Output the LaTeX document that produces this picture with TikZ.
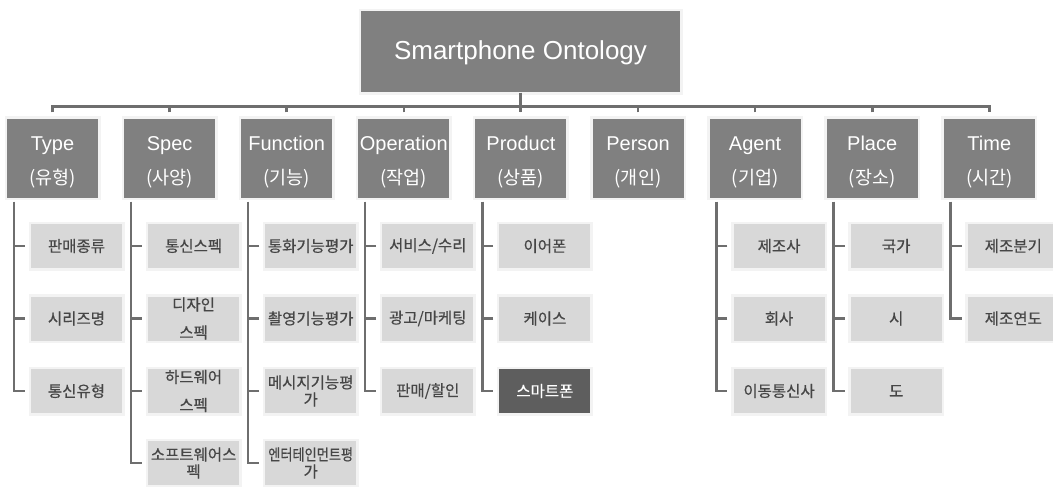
\documentclass[tikz,border=0pt]{standalone}
\usepackage{fontspec}
\usepackage{graphicx}
\setmainfont{Liberation Sans}
\newfontfamily\kr{Noto Sans CJK KR}
\newfontfamily\krb[FakeBold=0.5]{Noto Sans CJK KR}
\definecolor{catfill}{HTML}{808080}
\definecolor{leaf}{HTML}{D8D8D8}
\definecolor{leafdark}{HTML}{5E5E5E}
\definecolor{linec}{HTML}{6E6E6E}
\definecolor{leaftext}{HTML}{464646}
\definecolor{halo}{HTML}{F3F3F3}
\begin{document}
\begin{tikzpicture}[x=1pt,y=-1pt,
 box/.style={rectangle, inner sep=0pt, preaction={draw=halo,line width=5pt}},
 rootbox/.style={box, fill=catfill, text=white, minimum width=319pt, minimum height=81pt, font=\fontsize{26}{30}\selectfont},
 catbox/.style={box, fill=catfill, text=white, minimum width=91pt, minimum height=79pt, align=center, font=\fontsize{20}{34}\selectfont},
 leafbox/.style={box, fill=leaf, text=leaftext, minimum width=91pt, minimum height=44pt, align=center, font=\krb\fontsize{15.5}{28}\selectfont},
 leafsel/.style={leafbox, fill=leafdark, text=white},
 tight/.style={font=\krb\fontsize{15.5}{17}\selectfont},
 conn/.style={draw=linec, line width=2.6pt},
]
\useasboundingbox (0,0) rectangle (1053,487);
\clip (0,0) rectangle (1053,487);
\fill[white] (0,0) rectangle (1053,487);

% root
\node[rootbox] (root) at (520.5,52) {\rule{0pt}{21pt}Smartphone Ontology};

% categories
\foreach \k/\en/\ko in {0/Type/유형,1/Spec/사양,2/Function/기능,3/Operation/작업,4/Product/상품,5/Person/개인,6/Agent/기업,7/Place/장소,8/Time/시간}
  \node[catbox] (c\k) at ({52.5+117.1*\k},158) {\rule{0pt}{23pt}\en\\{\kr\fontsize{18.5}{34}\selectfont(\ko)}};

% leaves: Type
\node[leafbox] (l0a) at ({76.5+117.1*0},246) {판매종류};
\node[leafbox] (l0b) at ({76.5+117.1*0},318.5) {시리즈명};
\node[leafbox] (l0c) at ({76.5+117.1*0},391) {통신유형};
% Spec
\node[leafbox] (l1a) at ({76.5+117.1*1},246) {통신스펙};
\node[leafbox] (l1b) at ({76.5+117.1*1},318.5) {디자인\\스펙};
\node[leafbox] (l1c) at ({76.5+117.1*1},391) {하드웨어\\스펙};
\node[leafbox,tight] (l1d) at ({76.5+117.1*1},463) {소프트웨어스\\펙};
% Function
\node[leafbox] (l2a) at ({76.5+117.1*2},246) {통화기능평가};
\node[leafbox] (l2b) at ({76.5+117.1*2},318.5) {촬영기능평가};
\node[leafbox,tight] (l2c) at ({76.5+117.1*2},391) {메시지기능평\\가};
\node[leafbox,tight] (l2d) at ({76.5+117.1*2},463) {\scalebox{0.85}[1]{엔터테인먼트평}\\가};
% Operation
\node[leafbox] (l3a) at ({76.5+117.1*3},246) {서비스/수리};
\node[leafbox] (l3b) at ({76.5+117.1*3},318.5) {광고/마케팅};
\node[leafbox] (l3c) at ({76.5+117.1*3},391) {판매/할인};
% Product
\node[leafbox] (l4a) at ({76.5+117.1*4},246) {이어폰};
\node[leafbox] (l4b) at ({76.5+117.1*4},318.5) {케이스};
\node[leafsel] (l4c) at ({76.5+117.1*4},391) {스마트폰};
% Agent
\node[leafbox] (l6a) at ({76.5+117.1*6},246) {제조사};
\node[leafbox] (l6b) at ({76.5+117.1*6},318.5) {회사};
\node[leafbox] (l6c) at ({76.5+117.1*6},391) {이동통신사};
% Place
\node[leafbox] (l7a) at ({76.5+117.1*7},246) {국가};
\node[leafbox] (l7b) at ({76.5+117.1*7},318.5) {시};
\node[leafbox] (l7c) at ({76.5+117.1*7},391) {도};
% Time
\node[leafbox] (l8a) at ({76.5+117.1*8},246) {제조분기};
\node[leafbox] (l8b) at ({76.5+117.1*8},318.5) {제조연도};

% bus from root to categories
\coordinate (c4p) at ([yshift=6pt]c4.north);
\draw[conn] (root.south) -- (root.south |- c4p);
\draw[conn] ([yshift=6pt]c0.north) -- ([yshift=12pt]c0.north) -- ([yshift=12pt]c8.north) -- ([yshift=6pt]c8.north);
\foreach \k in {1,...,7}
  \draw[conn] ([yshift=6pt]c\k.north) -- ([yshift=12pt]c\k.north);

% column connectors
\foreach \k/\last/\others in {0/c/{a,b},1/d/{a,b,c},2/d/{a,b,c},3/c/{a,b},4/c/{a,b},6/c/{a,b},7/c/{a,b},8/b/{a}}{
  \draw[conn] ([xshift=7pt,yshift=-4pt]c\k.south west) |- ([xshift=-6pt]l\k\last.west);
  \foreach \o in \others
    \draw[conn] ([xshift=-6pt]l\k\o.west) -- ([xshift=-17pt]l\k\o.west);
}
\end{tikzpicture}
\end{document}
